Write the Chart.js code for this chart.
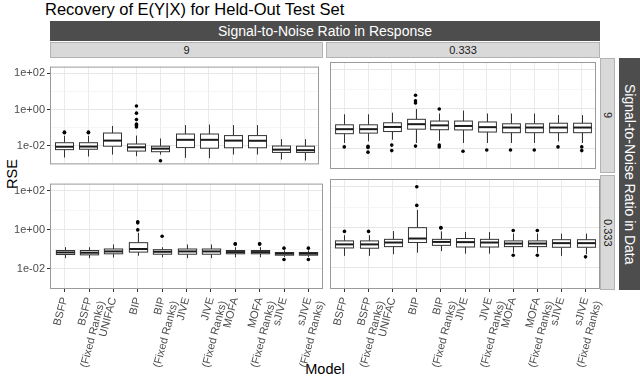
<!DOCTYPE html>
<html>
<head>
<meta charset="utf-8">
<script src="https://cdn.jsdelivr.net/npm/chart.js@4.4.0/dist/chart.umd.min.js"></script>
<style>
body { margin:0; background:#fff; font-family:"Liberation Sans", Arial, sans-serif; }
#wrap { position:relative; width:640px; height:380px; overflow:hidden; }
canvas { position:absolute; }
.txt { position:absolute; white-space:nowrap; }
.strip { position:absolute; background:#d9d9d9; border:1px solid #b3b3b3; box-sizing:border-box; color:#1a1a1a; font-size:11px; display:flex; align-items:center; justify-content:center; }
.dark { position:absolute; background:#4d4d4d; color:#fff; font-size:14px; display:flex; align-items:center; justify-content:center; }
.vert { writing-mode:vertical-rl; }
</style>
</head>
<body>
<div id="wrap">
  <div class="txt" style="left:45px;top:0px;font-size:16.5px;">Recovery of E(Y|X) for Held-Out Test Set</div>
  <div class="dark" style="left:50px;top:21px;width:550px;height:20px;">Signal-to-Noise Ratio in Response</div>
  <div class="strip" style="left:50px;top:42px;width:273px;height:16px;">9</div>
  <div class="strip" style="left:326px;top:42px;width:274px;height:16px;">0.333</div>
  <div class="strip vert" style="left:600px;top:58px;width:15px;height:115px;">9</div>
  <div class="strip vert" style="left:600px;top:175px;width:15px;height:115px;">0.333</div>
  <div class="dark vert" style="left:619px;top:58px;width:21px;height:232px;">Signal-to-Noise Ratio in Data</div>
  <div class="txt" style="left:-3px;top:174px;font-size:14.5px;transform:translateY(-50%) rotate(-90deg);transform-origin:center;">RSE</div>
  <div class="txt" style="left:325px;top:361px;font-size:14.5px;transform:translateX(-50%);">Model</div>

  <canvas id="tl" width="323" height="115" style="left:0px;top:58px;"></canvas>
  <canvas id="tr" width="274" height="115" style="left:326px;top:58px;"></canvas>
  <canvas id="bl" width="343" height="205" style="left:0px;top:175px;"></canvas>
  <canvas id="br" width="314" height="205" style="left:326px;top:175px;"></canvas>
</div>
<script>
const models = ['BSFP', ['BSFP','(Fixed Ranks)'], 'UNIFAC', 'BIP', ['BIP','(Fixed Ranks)'], 'JIVE',
  ['JIVE','(Fixed Ranks)'], 'MOFA', ['MOFA','(Fixed Ranks)'], 'sJIVE', ['sJIVE','(Fixed Ranks)']];

const yTicks = [1e-3, 1e-2, 1e-1, 1, 10, 100];
const yTickLabels = ['', '1e-02', '', '1e+00', '', '1e+02'];

// response SNR 9, data SNR 9
const r9d9_lo  = [0.0022, 0.0025, 0.0032, 0.0026, 0.0032, 0.0021, 0.0020, 0.0032, 0.0032, 0.0017, 0.0015];
const r9d9_q1  = [0.0060, 0.0063, 0.0093, 0.0050, 0.0046, 0.0078, 0.0072, 0.0076, 0.0076, 0.0042, 0.0042];
const r9d9_med = [0.0087, 0.0089, 0.019, 0.0081, 0.0068, 0.021, 0.021, 0.019, 0.0186, 0.0060, 0.0056];
const r9d9_q3  = [0.0145, 0.0145, 0.050, 0.0123, 0.0093, 0.044, 0.044, 0.036, 0.036, 0.0095, 0.0093];
const r9d9_hi  = [0.035, 0.035, 0.123, 0.036, 0.025, 0.138, 0.148, 0.138, 0.138, 0.023, 0.023];
const r9d9_out = [[0.056, 0.052], [0.056, 0.052], [], [1.58, 0.63, 0.28, 0.155, 0.126, 0.107], [0.00145], [], [], [], [], [], []];

// response SNR 0.333, data SNR 9
const r03d9_lo  = [0.019, 0.023, 0.0275, 0.019, 0.0245, 0.019, 0.019, 0.019, 0.019, 0.023, 0.019];
const r03d9_q1  = [0.056, 0.060, 0.072, 0.095, 0.089, 0.087, 0.068, 0.063, 0.063, 0.063, 0.063];
const r03d9_med = [0.095, 0.095, 0.123, 0.17, 0.148, 0.138, 0.12, 0.115, 0.115, 0.115, 0.115];
const r03d9_q3  = [0.158, 0.158, 0.20, 0.30, 0.245, 0.245, 0.22, 0.178, 0.178, 0.19, 0.19];
const r03d9_hi  = [0.54, 0.54, 0.65, 1.0, 0.59, 0.83, 0.59, 0.59, 0.59, 0.49, 0.49];
const r03d9_out = [[0.012], [0.0129, 0.0112, 0.0065], [0.0148, 0.0078], [5.0, 2.6, 2.0, 0.0132], [1.0, 0.0148, 0.012],
  [0.0072], [0.0083], [0.0083], [0.0083], [0.012], [0.012, 0.0078]];

// response SNR 9, data SNR 0.333
const r9d03_lo  = [0.035, 0.035, 0.038, 0.047, 0.039, 0.035, 0.035, 0.039, 0.039, 0.040, 0.040];
const r9d03_q1  = [0.054, 0.052, 0.059, 0.072, 0.056, 0.056, 0.056, 0.059, 0.059, 0.050, 0.050];
const r9d03_med = [0.069, 0.067, 0.078, 0.104, 0.075, 0.078, 0.078, 0.072, 0.072, 0.060, 0.060];
const r9d03_q3  = [0.087, 0.087, 0.104, 0.22, 0.096, 0.104, 0.104, 0.087, 0.087, 0.069, 0.069];
const r9d03_hi  = [0.129, 0.129, 0.178, 0.71, 0.129, 0.178, 0.178, 0.129, 0.129, 0.089, 0.089];
const r9d03_out = [[], [], [], [1.0, 2.3, 2.6], [0.47], [], [], [0.186, 0.19], [0.186, 0.19], [0.115, 0.030], [0.115, 0.030]];

// response SNR 0.333, data SNR 0.333
const r03d03_lo  = [0.039, 0.039, 0.047, 0.056, 0.067, 0.050, 0.050, 0.056, 0.056, 0.039, 0.047];
const r03d03_q1  = [0.096, 0.093, 0.112, 0.178, 0.129, 0.107, 0.107, 0.112, 0.112, 0.104, 0.104];
const r03d03_med = [0.144, 0.144, 0.178, 0.28, 0.19, 0.186, 0.178, 0.158, 0.158, 0.166, 0.166];
const r03d03_q3  = [0.214, 0.214, 0.255, 0.96, 0.255, 0.28, 0.255, 0.214, 0.214, 0.245, 0.245];
const r03d03_hi  = [0.41, 0.41, 0.65, 7.2, 0.63, 0.59, 0.59, 0.49, 0.49, 0.49, 0.49];
const r03d03_out = [[0.63], [0.63], [], [12, 100], [0.96, 0.93], [], [], [0.69, 0.042], [0.69, 0.042], [], [0.035]];

// draws the boxes + whiskers from the stats through the chart scales
const boxPlugin = {
  id: 'boxes',
  beforeDatasetsDraw(chart, args, opts) {
    const ctx = chart.ctx, xs = chart.scales.x, ys = chart.scales.y;
    const half = (xs.getPixelForValue(2) - xs.getPixelForValue(1)) * 0.375;
    ctx.save();
    for (let i = 0; i < opts.med.length; i++) {
      const px = Math.round(xs.getPixelForValue(i + 1)) + 0.5;
      const yLo = ys.getPixelForValue(opts.lo[i]), yHi = ys.getPixelForValue(opts.hi[i]);
      const y1 = ys.getPixelForValue(opts.q1[i]), y3 = ys.getPixelForValue(opts.q3[i]);
      const ym = ys.getPixelForValue(opts.med[i]);
      ctx.strokeStyle = '#333';
      ctx.lineWidth = 1;
      ctx.beginPath();
      ctx.moveTo(px, yHi); ctx.lineTo(px, y3);
      ctx.moveTo(px, y1); ctx.lineTo(px, yLo);
      ctx.stroke();
      ctx.fillStyle = '#fff';
      ctx.fillRect(px - half, y3, half * 2, y1 - y3);
      ctx.strokeRect(px - half, y3, half * 2, y1 - y3);
      ctx.strokeStyle = '#1a1a1a';
      ctx.lineWidth = 2;
      ctx.beginPath();
      ctx.moveTo(px - half, ym); ctx.lineTo(px + half, ym);
      ctx.stroke();
    }
    ctx.restore();
  },
  afterDraw(chart) {
    const a = chart.chartArea, ctx = chart.ctx;
    ctx.save();
    ctx.strokeStyle = '#9a9a9a';
    ctx.lineWidth = 1;
    ctx.strokeRect(a.left + 0.5, a.top + 0.5, a.right - a.left - 1, a.bottom - a.top - 1);
    ctx.restore();
  }
};

function makeFacet(id, lo, q1, med, q3, hi, out, showX, showY, padRight) {
  const pts = [];
  out.forEach((arr, i) => arr.forEach(v => pts.push({ x: i + 1, y: v })));
  return new Chart(document.getElementById(id), {
    type: 'scatter',
    data: { datasets: [{ data: pts, backgroundColor: '#000', borderWidth: 0, pointRadius: 1.8 }] },
    plugins: [boxPlugin],
    options: {
      responsive: false,
      animation: false,
      devicePixelRatio: 1,
      layout: { padding: { left: 0, top: 0, bottom: 0, right: padRight } },
      plugins: {
        legend: { display: false },
        tooltip: { enabled: false },
        boxes: { lo: lo, q1: q1, med: med, q3: q3, hi: hi }
      },
      scales: {
        x: {
          type: 'linear', min: 0.4, max: 11.6,
          afterBuildTicks: s => { s.ticks = models.map((m, i) => ({ value: i + 1 })); },
          afterFit: s => { s.height = showX ? 91 : 0; },
          ticks: {
            display: showX, autoSkip: false, minRotation: 75, maxRotation: 75, padding: 4,
            color: '#4d4d4d', font: { size: 11, family: 'Liberation Sans' },
            callback: (v, i) => models[i]
          },
          grid: { color: '#ebebeb', drawTicks: showX, tickLength: 3, tickColor: '#333' },
          border: { display: false }
        },
        y: {
          type: 'logarithmic', bounds: 'data',
          min: Math.pow(10, -3.04), max: Math.pow(10, 2.38),
          afterBuildTicks: s => { s.ticks = yTicks.map(v => ({ value: v })); },
          afterFit: s => { s.width = showY ? 50 : 0; },
          ticks: {
            display: showY, autoSkip: false, padding: 2,
            color: '#4d4d4d', font: { size: 11, family: 'Liberation Sans' },
            callback: (v, i) => yTickLabels[i]
          },
          grid: {
            color: c => yTickLabels[c.index] ? '#e6e6e6' : '#f2f2f2',
            lineWidth: c => yTickLabels[c.index] ? 1 : 0.7,
            drawTicks: showY, tickLength: 3,
            tickColor: c => yTickLabels[c.index] ? '#333' : 'rgba(0,0,0,0)'
          },
          border: { display: false }
        }
      }
    }
  });
}

makeFacet('tl', r9d9_lo, r9d9_q1, r9d9_med, r9d9_q3, r9d9_hi, r9d9_out, false, true, 0);
makeFacet('tr', r03d9_lo, r03d9_q1, r03d9_med, r03d9_q3, r03d9_hi, r03d9_out, false, false, 0);
makeFacet('bl', r9d03_lo, r9d03_q1, r9d03_med, r9d03_q3, r9d03_hi, r9d03_out, true, true, 20);
makeFacet('br', r03d03_lo, r03d03_q1, r03d03_med, r03d03_q3, r03d03_hi, r03d03_out, true, false, 40);
</script>
</body>
</html>
